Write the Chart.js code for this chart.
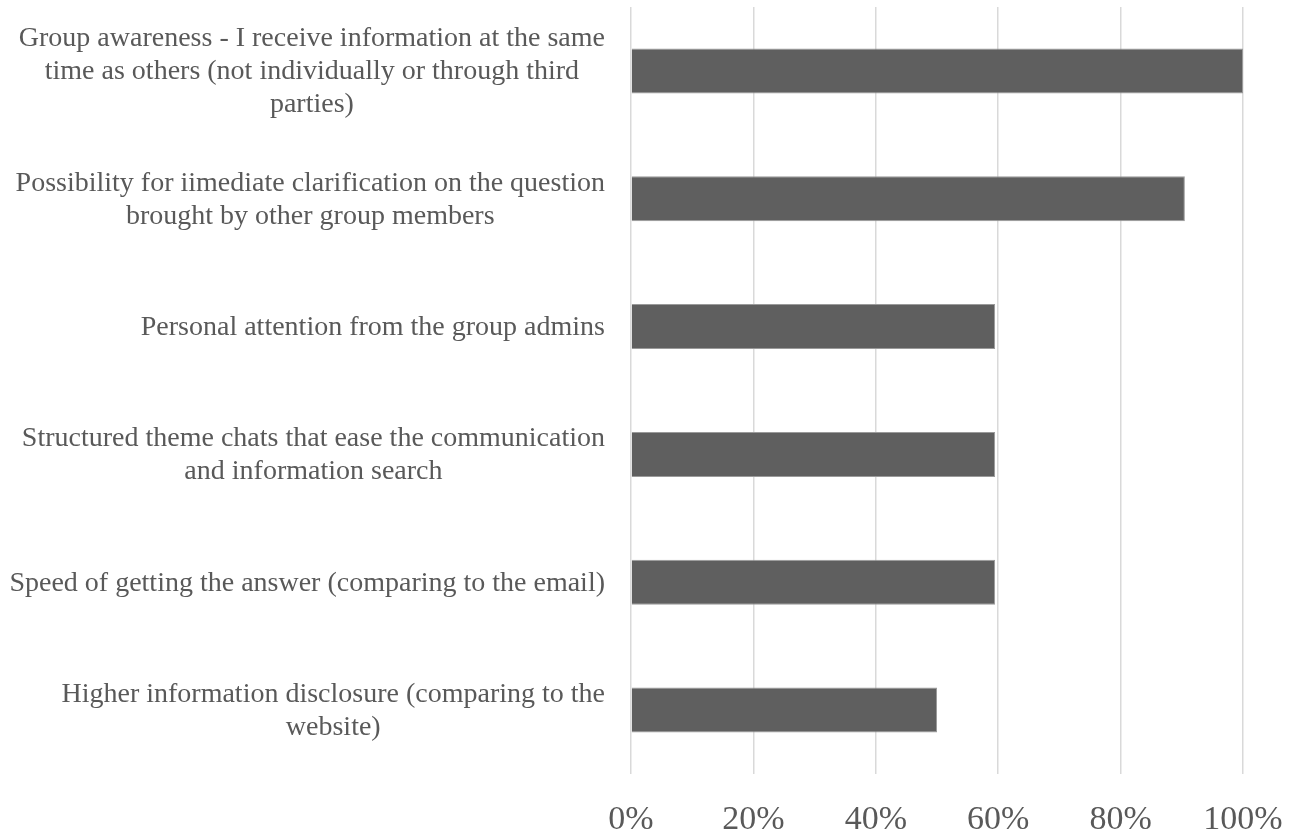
<!DOCTYPE html>
<html>
<head>
<meta charset="utf-8">
<script src="https://cdn.jsdelivr.net/npm/chart.js@4/dist/chart.umd.min.js"></script>
<style>
  html, body { margin: 0; padding: 0; background: #ffffff; }
  #wrap { width: 1303px; height: 839px; }
</style>
</head>
<body>
<div id="wrap"><canvas id="chart"></canvas></div>
<script>
// category labels, one array of lines per bar (top to bottom)
var categories = [
  ["Group awareness - I receive information at the same", "time as others (not individually or through third", "parties)"],
  ["Possibility for iimediate clarification on the question", "brought by other group members"],
  ["Personal attention from the group admins"],
  ["Structured theme chats that ease the communication", "and information search"],
  ["Speed of getting the answer (comparing to the email)"],
  ["Higher information disclosure (comparing to the", "website)"]
];
// share of respondents, percent
var values = [100, 90.5, 59.5, 59.5, 59.5, 50];
var xTicks = [0, 20, 40, 60, 80, 100];

var serif = "'Liberation Serif', 'Times New Roman', serif";
var textColor = '#595959';

// draws each category label as a right-aligned block with centred lines
var blockLabels = {
  id: 'blockLabels',
  afterDraw: function(chart) {
    var ctx = chart.ctx,
        yScale = chart.scales.y,
        rightEdge = chart.chartArea.left - 26,
        lineHeight = 33;
    ctx.save();
    ctx.font = '28px ' + serif;
    ctx.fillStyle = textColor;
    ctx.textAlign = 'center';
    ctx.textBaseline = 'middle';
    chart.data.labels.forEach(function(lines, i) {
      var widest = 0;
      lines.forEach(function(l) { widest = Math.max(widest, ctx.measureText(l).width); });
      var cx = rightEdge - widest / 2,
          cy = yScale.getPixelForValue(i),
          startY = cy - (lines.length - 1) * lineHeight / 2 + 1;
      lines.forEach(function(l, j) {
        ctx.fillText(l, cx, startY + j * lineHeight);
      });
    });
    ctx.restore();
  }
};

new Chart(document.getElementById('chart'), {
  type: 'bar',
  data: {
    labels: categories,
    datasets: [{
      data: values,
      backgroundColor: '#5f5f5f',
      borderColor: '#9a9a9a',
      borderWidth: 1,
      categoryPercentage: 1,
      barPercentage: 0.352
    }]
  },
  options: {
    indexAxis: 'y',
    responsive: true,
    maintainAspectRatio: false,
    animation: false,
    layout: { padding: { left: 631, right: 60, top: 7, bottom: 0 } },
    plugins: {
      legend: { display: false },
      tooltip: { enabled: false }
    },
    scales: {
      x: {
        min: 0,
        max: 100,
        afterBuildTicks: function(scale) {
          scale.ticks = xTicks.map(function(v) { return { value: v }; });
        },
        afterFit: function(scale) {
          scale.height = 65;
          scale.paddingLeft = 0;
          scale.paddingRight = 0;
        },
        grid: { color: '#d9d9d9', lineWidth: 1.5, drawTicks: false },
        border: { display: false },
        ticks: {
          padding: 26,
          color: textColor,
          font: { family: serif, size: 34 },
          callback: function(v) { return v + '%'; }
        }
      },
      y: {
        afterFit: function(scale) { scale.width = 0; },
        grid: { display: false },
        border: { display: false },
        ticks: { display: false }
      }
    }
  },
  plugins: [blockLabels]
});
</script>
</body>
</html>
